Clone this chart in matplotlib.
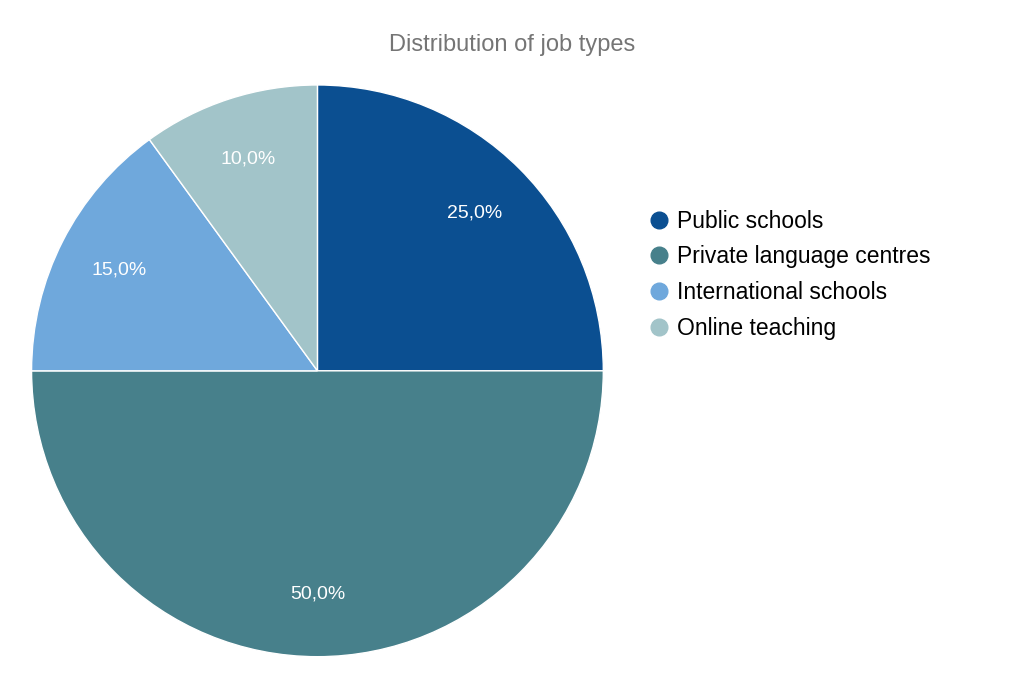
import matplotlib.pyplot as plt
from matplotlib.lines import Line2D

plt.rcParams['font.family'] = ['Liberation Sans', 'DejaVu Sans']

categories = ["Public schools", "Private language centres", "International schools", "Online teaching"]
shares = [25.0, 50.0, 15.0, 10.0]
colors = ["#0b4f91", "#47808b", "#6fa8dc", "#a2c4c9"]

fig = plt.figure(figsize=(10.24, 6.88), dpi=100)
ax = fig.add_axes([0.0305, 0.0455, 0.559, 0.831])

wedges, texts, autotexts = ax.pie(
    shares, colors=colors, startangle=90, counterclock=False,
    autopct=lambda p: f"{p:.1f}%".replace(".", ","), pctdistance=0.78,
    wedgeprops=dict(edgecolor="white", linewidth=1),
    textprops=dict(color="white", fontsize=14),
)
ax.set_xlim(-1, 1)
ax.set_ylim(-1, 1)
ax.set_aspect("equal")

fig.text(0.5, 0.934, "Distribution of job types", ha="center", va="center",
         fontsize=17, color="#757575")

handles = [Line2D([], [], marker="o", linestyle="", markersize=12,
                  markerfacecolor=c, markeredgecolor=c) for c in colors]
fig.legend(handles, categories, loc="upper left", bbox_to_anchor=(0.612, 0.725),
           frameon=False, fontsize=16.5, handletextpad=0.3, labelspacing=0.55,
           handlelength=1.0)

fig.savefig("out.png", dpi=100)
